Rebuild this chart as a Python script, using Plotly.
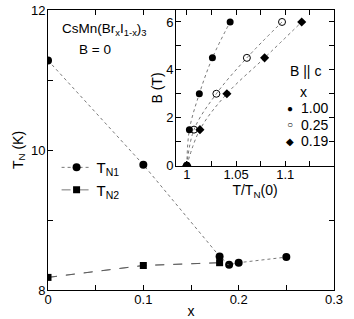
import plotly.graph_objects as go

# Main panel data: Neel temperatures vs x (B = 0)
x_n1 = [0.0, 0.1, 0.18, 0.19, 0.20, 0.25]
tn1 = [11.28, 9.79, 8.48, 8.36, 8.39, 8.47]
x_n2 = [0.0, 0.1, 0.18]
tn2 = [8.18, 8.35, 8.39]

# Inset data: B vs T/T_N(0), B || c
b_vals = [0.0, 1.5, 3.0, 4.5, 6.0]
t_100 = [1.0, 1.0026, 1.0127, 1.026, 1.044]
t_025 = [1.0, 1.0073, 1.030, 1.061, 1.0967]
t_019 = [1.0, 1.0133, 1.0407, 1.079, 1.1167]
inset_labels = ["1.00", "0.25", "0.19"]
inset_glyphs = ["\u25cf", "\u25cb", "\u25c6"]

FONT = "Liberation Sans, Arial, sans-serif"
fig = go.Figure()

fig.add_trace(go.Scatter(x=x_n1, y=tn1, mode="lines+markers", name="T<sub>N1</sub>",
                         line=dict(color="#555", width=0.8, dash="dot"),
                         marker=dict(symbol="circle", size=8, color="black")))
fig.add_trace(go.Scatter(x=x_n2 + [x_n1[3]], y=tn2 + [tn1[3]], mode="lines", showlegend=False,
                         line=dict(color="#555", width=0.8, dash="dash")))
fig.add_trace(go.Scatter(x=x_n2, y=tn2, mode="lines+markers", name="T<sub>N2</sub>",
                         line=dict(color="#555", width=0.8, dash="dash"),
                         marker=dict(symbol="square", size=7, color="black")))

series = [
    (t_100, dict(symbol="circle", size=7, color="black")),
    (t_025, dict(symbol="circle-open", size=7, color="black", line=dict(width=1))),
    (t_019, dict(symbol="diamond", size=7, color="black")),
]
for tv, mk in series:
    fig.add_trace(go.Scatter(x=tv, y=b_vals, mode="lines", showlegend=False,
                             line=dict(color="#555", width=0.8, dash="dot", shape="spline"),
                             xaxis="x2", yaxis="y2"))
for (tv, mk), lab in zip(series, inset_labels):
    fig.add_trace(go.Scatter(x=tv, y=b_vals, mode="markers", name=lab, marker=mk,
                             showlegend=False, xaxis="x2", yaxis="y2"))

def axis_common(dt, mdt, t0):
    return dict(showline=True, linecolor="black", linewidth=1, mirror="ticks",
                ticks="inside", ticklen=5, tickcolor="black", showgrid=False,
                zeroline=False, automargin=False, tick0=t0, dtick=dt,
                minor=dict(tick0=t0, dtick=mdt, ticks="inside", ticklen=5,
                           tickcolor="black", showgrid=False),
                tickfont=dict(size=13, color="black", family=FONT))

L, R, T, B = 48, 20, 10, 29
pw, ph = 354 - L - R, 319 - T - B

def px(x, y):
    return (x - L) / pw, 1 - (y - T) / ph

annos = []
def add_text(text, x, y, xanchor="center", size=14):
    ax, ay = px(x, y)
    annos.append(dict(text=text, x=ax, y=ay, xref="paper", yref="paper", showarrow=False,
                      xanchor=xanchor, yanchor="middle", font=dict(size=size)))

add_text("CsMn(Br<sub>x</sub>I<sub>1-x</sub>)<sub>3</sub>", 104, 30, size=13.5)
add_text("B = 0", 95, 50, size=13.5)
add_text("B || c", 323, 71, xanchor="right")
add_text("x", 303, 92)
for i, (g, lab) in enumerate(zip(inset_glyphs, inset_labels)):
    yy = 108 + i * 16.5
    add_text(g, 290, yy, size=10)
    add_text(lab, 299, yy, xanchor="left")

fig.update_layout(
    width=354, height=319,
    margin=dict(l=L, r=R, t=T, b=B),
    paper_bgcolor="white", plot_bgcolor="white",
    font=dict(family=FONT, size=14, color="black"),
    xaxis=dict(range=[0, 0.3], ticklabelstandoff=-3,
               title=dict(text="x", standoff=3, font=dict(size=14)),
               **axis_common(0.1, 0.05, 0)),
    yaxis=dict(range=[8, 12], ticklabelstandoff=-1,
               title=dict(text="T<sub>N</sub> (K)", standoff=4, font=dict(size=14)),
               **axis_common(2, 1, 8)),
    xaxis2=dict(domain=[(176 - L) / pw, 1.0], anchor="y2", range=[0.989, 1.1495],
                ticklabelstandoff=-4,
                title=dict(text="T/T<sub>N</sub>(0)", standoff=0, font=dict(size=14)),
                **axis_common(0.05, 0.025, 1.0)),
    yaxis2=dict(domain=[(290 - 166) / ph, 1.0], anchor="x2", range=[-0.02, 6.5],
                ticklabelstandoff=-1,
                title=dict(text="B (T)", standoff=0, font=dict(size=14)),
                **axis_common(2, 1, 0)),
    legend=dict(x=0.03, y=0.496, xanchor="left", yanchor="top", bgcolor="rgba(0,0,0,0)",
                font=dict(size=15), itemwidth=30, tracegroupgap=0),
    annotations=annos,
)

fig.write_html("out.html", config={"displayModeBar": False},
               post_script="document.body.style.margin='0';")
